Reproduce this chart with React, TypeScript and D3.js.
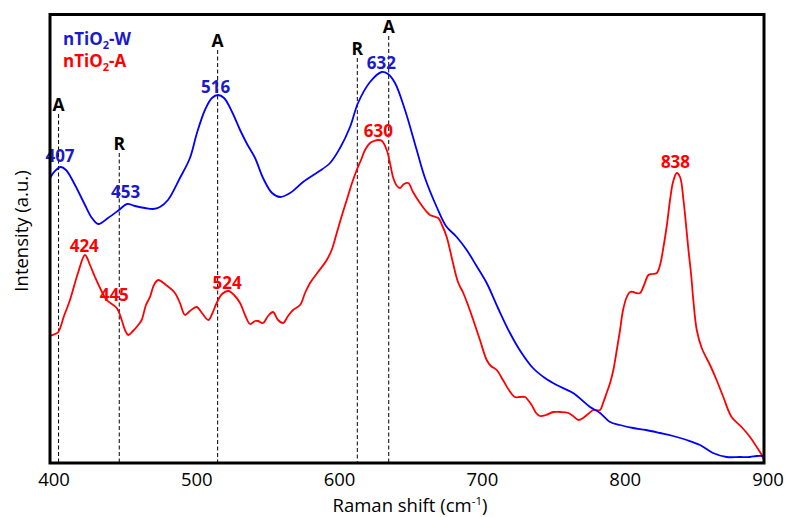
import React from "react";
import * as d3 from "d3";

// nTiO2-W spectrum (blue)
const wShift = [400, 403.5, 407.5, 411.2, 417.5, 424.5, 429.4, 433.8, 440.6, 448.3, 453.9, 459.5, 466.5, 472.1, 477, 482.6, 491, 498, 502.9, 508.5, 513.4, 517.6, 521.9, 527.5, 533.1, 538, 543.6, 549.2, 555.5, 561.1, 568.1, 577.2, 587.7, 596.1, 603.1, 610.1, 615.7, 624.1, 632.3, 636.7, 641.6, 648.6, 656.8, 662.6, 670.8, 677.3, 684.8, 691.8, 698.3, 705.8, 713.7, 722.1, 729.8, 738.2, 746.6, 754.8, 766.3, 778.2, 785.2, 792.2, 799.2, 808.3, 817.4, 827.2, 836.3, 845.9, 855.2, 864.3, 873.9, 883.2, 890.2, 894.9, 900];
const wIntensity = [285, 292, 296, 293, 278, 258, 245, 239, 245, 253, 259, 257, 255, 254, 256, 263, 285, 305, 330, 353, 365, 368, 365, 351, 333, 319, 305, 285, 270, 266, 270, 281, 291, 300, 315, 336, 360, 381, 391, 389, 380, 353, 313, 285, 256, 237, 226, 213, 198, 180, 155, 130, 111, 95, 85, 78, 70, 56, 50, 41, 38, 35, 33, 30, 27, 23, 18, 10, 6, 6, 6, 7, 7];

// nTiO2-A spectrum (red)
const aShift = [400, 403.5, 405.8, 409.8, 414, 419.6, 424.5, 428, 431.5, 435.7, 439.7, 446.7, 450.2, 452.5, 454.8, 458.1, 461.8, 464.2, 467.2, 470, 472.8, 475.8, 481.2, 487.5, 491, 494.5, 498, 502.7, 506.4, 510.9, 513.5, 516.7, 520.5, 524.9, 528.9, 533.1, 536.6, 540.1, 543.6, 545.7, 549.2, 552.7, 556.2, 559.7, 563.2, 566.7, 570.2, 575.1, 578.6, 582.1, 587.7, 593.8, 597.5, 600.8, 604.5, 607.8, 611.5, 614.8, 617.8, 620.6, 624.1, 626.9, 629.9, 632.5, 635.8, 638.1, 640.4, 643, 645.1, 647.9, 650.9, 654.2, 659.1, 663.3, 666.1, 671.9, 674.5, 677.8, 682.2, 685.7, 689.4, 692.7, 696.4, 701.1, 705.8, 708.8, 712.8, 717.2, 721.4, 725.6, 729.1, 732.7, 734.7, 737.3, 740.4, 743.1, 747.3, 752.5, 757.2, 763, 766.3, 770, 773.3, 776.8, 780.5, 785.2, 787.3, 789.8, 792.2, 794.5, 796.9, 799.2, 801.3, 803.9, 806.2, 808.5, 810.4, 813.2, 816, 819.1, 821.6, 824.9, 827.2, 829.6, 832, 834.2, 836.3, 838.9, 841.2, 843.6, 845.4, 847.1, 849, 850.5, 852.9, 856.4, 862.2, 866.8, 871.5, 877.3, 884.3, 890.2, 894.9, 898.4, 900];
const aIntensity = [127, 129, 131, 147, 163, 190, 208, 198, 186, 173, 163, 155, 143, 133, 128, 132, 138, 143, 158, 166, 178, 183, 178, 170, 160, 148, 152, 156, 150, 143, 149, 160, 169, 172, 168, 160, 148, 139, 142, 142, 140, 147, 151, 143, 140, 147, 153, 158, 170, 180, 191, 203, 214, 230, 248, 263, 280, 293, 303, 313, 320, 322, 323, 322, 313, 300, 285, 277, 275, 279, 280, 271, 260, 252, 248, 245, 238, 226, 200, 181, 170, 158, 143, 123, 103, 97, 93, 83, 73, 66, 66, 66, 63, 58, 50, 47, 48, 51, 51, 50, 47, 43, 45, 49, 53, 53, 60, 70, 80, 93, 113, 133, 153, 166, 171, 171, 170, 170, 178, 188, 189, 190, 198, 216, 238, 263, 281, 290, 286, 263, 238, 213, 188, 163, 133, 115, 98, 83, 66, 46, 36, 26, 16, 8, 3];

// Phase markers (A = anatase, R = rutile)
const markerShift = [406, 448.5, 517.4, 615.2, 637.2];
const markerLabel = ["A", "R", "A", "R", "A"];
const markerTop = [349, 310, 413, 405, 427];

// Peak labels
const wPeakText = ["407", "453", "516", "632"];
const wPeakShift = [407, 453, 516, 632];
const wPeakIntensity = [301, 265, 370, 394];
const aPeakText = ["424", "445", "524", "630", "838"];
const aPeakShift = [424, 445, 524, 630, 838];
const aPeakIntensity = [211, 162, 174, 326, 295];

const xTicks = [400, 500, 600, 700, 800, 900];

const W = 788;
const H = 517;
const L = 50, R = 764, T = 14.5, B = 463;
const FONT = "'Open Sans', 'Noto Sans', sans-serif";

export default function App() {
  const x = d3.scaleLinear().domain([400, 900]).range([L, R]);
  const y = d3.scaleLinear().domain([0, 448.5]).range([B, T]);
  const line = d3
    .line<[number, number]>()
    .x((d) => x(d[0]))
    .y((d) => y(d[1]))
    .curve(d3.curveCatmullRom.alpha(0.5));
  const wData = wShift.map((s, i) => [s, wIntensity[i]] as [number, number]);
  const aData = aShift.map((s, i) => [s, aIntensity[i]] as [number, number]);

  return (
    <svg
      width={W}
      height={H}
      style={{ position: "absolute", left: 0, top: 0, background: "#fff" }}
      fontFamily={FONT}
    >
      <defs>
        <clipPath id="plotClip">
          <rect x={L} y={T} width={R - L} height={B - T} />
        </clipPath>
      </defs>
      {markerShift.map((s, i) => (
        <g key={"m" + i}>
          <line
            x1={x(s)}
            x2={x(s)}
            y1={y(markerTop[i])}
            y2={B}
            stroke="#000"
            strokeWidth={1}
            strokeDasharray="4,2.5"
          />
          <text
            x={x(s)}
            y={y(markerTop[i]) - 3}
            textAnchor="middle"
            fontSize={17.5}
            fontWeight="bold"
            fill="#000"
          >
            {markerLabel[i]}
          </text>
        </g>
      ))}
      <g clipPath="url(#plotClip)">
        <path d={line(aData) || ""} fill="none" stroke="#ff0000" strokeWidth={1.8} />
        <path d={line(wData) || ""} fill="none" stroke="#0000ff" strokeWidth={1.8} />
      </g>
      {wPeakText.map((t, i) => (
        <text
          key={"wp" + i}
          x={x(wPeakShift[i])}
          y={y(wPeakIntensity[i])}
          textAnchor="middle"
          fontSize={17}
          fontWeight="bold"
          fill="#1a1acc"
        >
          {t}
        </text>
      ))}
      {aPeakText.map((t, i) => (
        <text
          key={"ap" + i}
          x={x(aPeakShift[i])}
          y={y(aPeakIntensity[i])}
          textAnchor="middle"
          fontSize={17}
          fontWeight="bold"
          fill="#ff0000"
        >
          {t}
        </text>
      ))}
      <text x={63} y={45} fontSize={17} fontWeight="bold" fill="#1a1acc">
        nTiO<tspan fontSize={11} dy={4}>2</tspan>
        <tspan dy={-4}>-W</tspan>
      </text>
      <text x={63} y={67} fontSize={17} fontWeight="bold" fill="#ff0000">
        nTiO<tspan fontSize={11} dy={4}>2</tspan>
        <tspan dy={-4}>-A</tspan>
      </text>
      <rect
        x={L}
        y={T}
        width={R - L}
        height={B - T}
        fill="none"
        stroke="#000"
        strokeWidth={3}
      />
      {xTicks.map((t) => (
        <text
          key={"t" + t}
          x={x(t) + 4}
          y={486}
          textAnchor="middle"
          fontSize={18.5}
          fill="#000"
        >
          {t}
        </text>
      ))}
      <text x={410} y={512} textAnchor="middle" fontSize={18.5} fill="#000">
        Raman shift (cm<tspan fontSize={11.5} dy={-7}>-1</tspan>
        <tspan dy={7}>)</tspan>
      </text>
      <text
        transform={`translate(28, ${231}) rotate(-90)`}
        textAnchor="middle"
        fontSize={18.5}
        fill="#000"
      >
        Intensity (a.u.)
      </text>
    </svg>
  );
}
